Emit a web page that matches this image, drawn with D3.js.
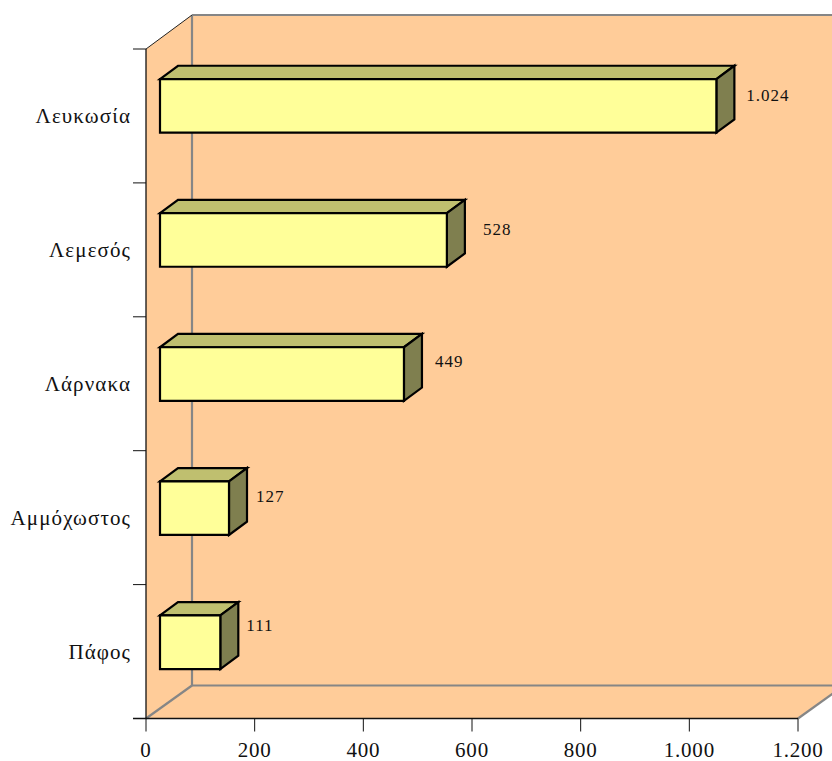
<!DOCTYPE html>
<html><head><meta charset="utf-8">
<script src="https://cdn.jsdelivr.net/npm/d3@7"></script>
<style>html,body{margin:0;padding:0;background:#fff}svg{display:block}text{font-family:"Liberation Serif",serif;fill:#111}</style>
</head><body><div id="c"></div>
<script>
const categories=["Λευκωσία","Λεμεσός","Λάρνακα","Αμμόχωστος","Πάφος"];
const values=[1024,528,449,127,111];
const valueLabels=["1.024","528","449","127","111"];
const tickValues=[0,200,400,600,800,1000,1200];
const tickLabels=["0","200","400","600","800","1.000","1.200"];

const W=832,H=761;
const svg=d3.select("#c").append("svg").attr("width",W).attr("height",H);
const x=d3.scaleLinear().domain([0,1200]).range([146,798]);
const y=d3.scaleBand().domain(categories).range([49,718.5]);
const yBar=d3.scaleBand().domain(categories).range([49,719.5]);
const wallDx=46,wallDy=33;
const barDx=18,barDy=13.3,offX=14,offY=10,barH=53.6;
const x0=x(0),x1=x(1200),yT=y.range()[0],yB=y.range()[1];
const line=d3.line();

// walls
const edgeY=yB-(W-x1)*wallDy/wallDx;
svg.append("path").attr("fill","#FFCC99").attr("stroke","none")
 .attr("d",line([[x0,yT],[x0+wallDx,yT-wallDy-1],[W,yT-wallDy-1],[W,edgeY],[x1,yB],[x0,yB]])+"Z");
const grey="#868686";
const backLines=[
 [[x0+wallDx,yT-wallDy-1],[W,yT-wallDy-1]],
 [[x0+wallDx,yT-wallDy-1],[x0+wallDx,yB-wallDy]],
 [[x0+wallDx,yB-wallDy],[W,yB-wallDy]],
 [[x0,yB],[x0+wallDx,yB-wallDy]],
 [[x1,yB],[x1+wallDx,yB-wallDy]]
];
svg.selectAll("path.back").data(backLines).join("path").attr("class","back")
 .attr("d",line).attr("fill","none").attr("stroke",grey).attr("stroke-width",2.2);
svg.append("path").attr("d",line([[x0,yT],[x0+wallDx,yT-wallDy-1]])).attr("fill","none").attr("stroke","#222").attr("stroke-width",1);

// axes
const axisG=svg.append("g").attr("stroke","#111").attr("fill","none");
axisG.append("path").attr("d",line([[x0,yT],[x0,yB]])).attr("stroke-width",1.3);
axisG.append("path").attr("d",line([[x0-13,yB],[x1,yB]])).attr("stroke-width",1.3);
const yTicks=categories.map(c=>y(c)).concat([yB]);
axisG.selectAll("path.yt").data(yTicks).join("path").attr("class","yt")
 .attr("d",d=>line([[x0-13,d],[x0,d]])).attr("stroke-width",1);
axisG.selectAll("path.xt").data(tickValues).join("path").attr("class","xt")
 .attr("d",d=>line([[x(d),yB],[x(d),yB+13]])).attr("stroke-width",1);

svg.selectAll("text.xl").data(tickValues).join("text").attr("class","xl")
 .attr("x",d=>x(d)).attr("y",yB+38.5).attr("text-anchor","middle").attr("font-size",21).attr("letter-spacing",0.8)
 .text((d,i)=>tickLabels[i]);
svg.selectAll("text.yl").data(categories).join("text").attr("class","yl")
 .attr("x",131).attr("y",d=>y(d)+y.bandwidth()/2+7)
 .attr("text-anchor","end").attr("font-size",21).attr("letter-spacing",1.1).text(d=>d);

// bars
const g=svg.selectAll("g.bar").data(categories).join("g").attr("class","bar");
const st=s=>s.attr("stroke","#000").attr("stroke-width",2.2).attr("stroke-linejoin","miter");
values.forEach((v,i)=>{
 const gg=d3.select(g.nodes()[i]);
 const l=x(0)+offX,r=x(v)+offX;
 const t=yBar(categories[i])+yBar.bandwidth()/2-offY-27,b=t+barH;
 st(gg.append("path").attr("fill","#BFBF6F").attr("d",line([[l,t],[l+barDx,t-barDy],[r+barDx,t-barDy],[r,t]])+"Z"));
 st(gg.append("path").attr("fill","#7F7F4F").attr("d",line([[r,t],[r+barDx,t-barDy],[r+barDx,b-barDy],[r,b]])+"Z"));
 st(gg.append("path").attr("fill","#FFFF99").attr("d",line([[l,t],[r,t],[r,b],[l,b]])+"Z"));
});
const labelNudge=[30,36,31,27,26];
const labelY=[101,235,367,502,631];
svg.selectAll("text.vl").data(values).join("text").attr("class","vl")
 .attr("x",(d,i)=>x(d)+offX+labelNudge[i]).attr("y",(d,i)=>labelY[i]).attr("font-size",17).attr("letter-spacing",1)
 .text((d,i)=>valueLabels[i]);
</script></body></html>
